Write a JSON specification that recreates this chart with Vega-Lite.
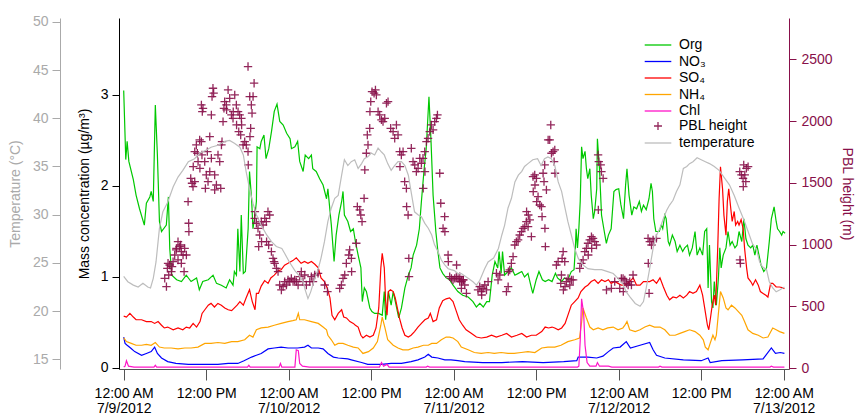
{
  "$schema": "https://vega.github.io/schema/vega-lite/v6.json",
  "width": 670,
  "height": 351,
  "autosize": {"type": "none"},
  "padding": {"left": 119, "top": 18, "right": 67, "bottom": 46},
  "config": {
    "font": "Liberation Sans",
    "view": {"stroke": null},
    "axis": {"grid": false, "labelFont": "Liberation Sans", "titleFont": "Liberation Sans", "labelFontSize": 14, "titleFontSize": 14, "titleFontWeight": "normal", "domainWidth": 1, "tickWidth": 1},
    "legend": {"labelFont": "Liberation Sans", "labelFontSize": 14, "labelColor": "black", "padding": 0, "rowPadding": 1.5, "labelOffset": 13, "symbolStrokeWidth": 1.3, "title": null}
  },
  "datasets": {
    "mass": [
      {"t":"2012-07-09T00:00","s":"Org","v":3.05},{"t":"2012-07-09T00:18","s":"Org","v":2.29},{"t":"2012-07-09T00:30","s":"Org","v":2.49},{"t":"2012-07-09T00:45","s":"Org","v":2.27},{"t":"2012-07-09T01:24","s":"Org","v":2.07},{"t":"2012-07-09T01:48","s":"Org","v":1.90},{"t":"2012-07-09T02:18","s":"Org","v":1.75},{"t":"2012-07-09T03:00","s":"Org","v":1.57},{"t":"2012-07-09T03:18","s":"Org","v":1.81},{"t":"2012-07-09T03:48","s":"Org","v":1.88},{"t":"2012-07-09T04:00","s":"Org","v":1.94},{"t":"2012-07-09T04:18","s":"Org","v":1.83},{"t":"2012-07-09T04:36","s":"Org","v":2.89},{"t":"2012-07-09T04:54","s":"Org","v":2.34},{"t":"2012-07-09T05:12","s":"Org","v":1.61},{"t":"2012-07-09T05:30","s":"Org","v":1.50},{"t":"2012-07-09T06:12","s":"Org","v":1.57},{"t":"2012-07-09T06:30","s":"Org","v":1.88},{"t":"2012-07-09T06:42","s":"Org","v":1.31},{"t":"2012-07-09T07:00","s":"Org","v":1.02},{"t":"2012-07-09T07:42","s":"Org","v":0.97},{"t":"2012-07-09T08:24","s":"Org","v":0.95},{"t":"2012-07-09T09:06","s":"Org","v":1.02},{"t":"2012-07-09T09:48","s":"Org","v":0.95},{"t":"2012-07-09T10:36","s":"Org","v":0.99},{"t":"2012-07-09T11:00","s":"Org","v":0.86},{"t":"2012-07-09T11:30","s":"Org","v":0.95},{"t":"2012-07-09T12:18","s":"Org","v":0.97},{"t":"2012-07-09T13:00","s":"Org","v":1.02},{"t":"2012-07-09T13:30","s":"Org","v":0.93},{"t":"2012-07-09T14:12","s":"Org","v":0.91},{"t":"2012-07-09T14:54","s":"Org","v":0.88},{"t":"2012-07-09T15:24","s":"Org","v":0.97},{"t":"2012-07-09T15:54","s":"Org","v":0.91},{"t":"2012-07-09T16:06","s":"Org","v":1.06},{"t":"2012-07-09T16:24","s":"Org","v":1.02},{"t":"2012-07-09T16:36","s":"Org","v":1.53},{"t":"2012-07-09T16:54","s":"Org","v":1.06},{"t":"2012-07-09T17:06","s":"Org","v":1.68},{"t":"2012-07-09T17:24","s":"Org","v":1.04},{"t":"2012-07-09T17:42","s":"Org","v":1.06},{"t":"2012-07-09T18:06","s":"Org","v":1.53},{"t":"2012-07-09T18:18","s":"Org","v":2.16},{"t":"2012-07-09T18:36","s":"Org","v":1.86},{"t":"2012-07-09T18:48","s":"Org","v":1.53},{"t":"2012-07-09T19:06","s":"Org","v":1.68},{"t":"2012-07-09T19:18","s":"Org","v":1.83},{"t":"2012-07-09T19:24","s":"Org","v":2.43},{"t":"2012-07-09T19:48","s":"Org","v":2.41},{"t":"2012-07-09T20:00","s":"Org","v":2.49},{"t":"2012-07-09T20:24","s":"Org","v":2.56},{"t":"2012-07-09T20:42","s":"Org","v":2.30},{"t":"2012-07-09T21:06","s":"Org","v":2.41},{"t":"2012-07-09T21:30","s":"Org","v":2.60},{"t":"2012-07-09T21:54","s":"Org","v":2.82},{"t":"2012-07-09T22:18","s":"Org","v":2.90},{"t":"2012-07-09T22:42","s":"Org","v":2.71},{"t":"2012-07-09T23:12","s":"Org","v":2.67},{"t":"2012-07-09T23:42","s":"Org","v":2.58},{"t":"2012-07-10T00:12","s":"Org","v":2.52},{"t":"2012-07-10T00:24","s":"Org","v":2.41},{"t":"2012-07-10T00:54","s":"Org","v":2.43},{"t":"2012-07-10T01:18","s":"Org","v":2.49},{"t":"2012-07-10T01:36","s":"Org","v":2.27},{"t":"2012-07-10T02:06","s":"Org","v":2.16},{"t":"2012-07-10T02:24","s":"Org","v":2.34},{"t":"2012-07-10T02:54","s":"Org","v":2.30},{"t":"2012-07-10T03:18","s":"Org","v":2.34},{"t":"2012-07-10T03:30","s":"Org","v":2.19},{"t":"2012-07-10T04:00","s":"Org","v":2.16},{"t":"2012-07-10T04:30","s":"Org","v":2.08},{"t":"2012-07-10T05:00","s":"Org","v":2.01},{"t":"2012-07-10T05:30","s":"Org","v":1.86},{"t":"2012-07-10T05:42","s":"Org","v":1.97},{"t":"2012-07-10T06:12","s":"Org","v":1.57},{"t":"2012-07-10T06:36","s":"Org","v":1.17},{"t":"2012-07-10T06:54","s":"Org","v":1.46},{"t":"2012-07-10T07:18","s":"Org","v":1.68},{"t":"2012-07-10T07:42","s":"Org","v":1.83},{"t":"2012-07-10T07:54","s":"Org","v":1.94},{"t":"2012-07-10T08:06","s":"Org","v":1.68},{"t":"2012-07-10T08:36","s":"Org","v":1.61},{"t":"2012-07-10T09:00","s":"Org","v":1.50},{"t":"2012-07-10T09:24","s":"Org","v":1.53},{"t":"2012-07-10T09:42","s":"Org","v":1.39},{"t":"2012-07-10T10:06","s":"Org","v":1.24},{"t":"2012-07-10T10:30","s":"Org","v":1.10},{"t":"2012-07-10T10:42","s":"Org","v":0.73},{"t":"2012-07-10T11:00","s":"Org","v":0.88},{"t":"2012-07-10T11:18","s":"Org","v":0.84},{"t":"2012-07-10T11:48","s":"Org","v":0.66},{"t":"2012-07-10T12:06","s":"Org","v":0.62},{"t":"2012-07-10T12:30","s":"Org","v":0.60},{"t":"2012-07-10T13:06","s":"Org","v":0.60},{"t":"2012-07-10T13:36","s":"Org","v":0.58},{"t":"2012-07-10T13:54","s":"Org","v":0.84},{"t":"2012-07-10T14:06","s":"Org","v":0.53},{"t":"2012-07-10T14:30","s":"Org","v":0.84},{"t":"2012-07-10T14:54","s":"Org","v":0.69},{"t":"2012-07-10T15:12","s":"Org","v":0.84},{"t":"2012-07-10T15:42","s":"Org","v":0.66},{"t":"2012-07-10T16:00","s":"Org","v":0.55},{"t":"2012-07-10T16:24","s":"Org","v":0.66},{"t":"2012-07-10T16:54","s":"Org","v":0.88},{"t":"2012-07-10T17:24","s":"Org","v":1.02},{"t":"2012-07-10T17:48","s":"Org","v":1.10},{"t":"2012-07-10T18:06","s":"Org","v":1.24},{"t":"2012-07-10T18:36","s":"Org","v":1.35},{"t":"2012-07-10T19:00","s":"Org","v":1.53},{"t":"2012-07-10T19:18","s":"Org","v":1.83},{"t":"2012-07-10T19:42","s":"Org","v":2.19},{"t":"2012-07-10T20:00","s":"Org","v":2.41},{"t":"2012-07-10T20:24","s":"Org","v":2.98},{"t":"2012-07-10T20:42","s":"Org","v":2.49},{"t":"2012-07-10T21:00","s":"Org","v":1.90},{"t":"2012-07-10T21:24","s":"Org","v":1.50},{"t":"2012-07-10T21:42","s":"Org","v":1.28},{"t":"2012-07-10T22:00","s":"Org","v":1.10},{"t":"2012-07-10T22:24","s":"Org","v":1.04},{"t":"2012-07-10T22:54","s":"Org","v":0.99},{"t":"2012-07-10T23:24","s":"Org","v":0.97},{"t":"2012-07-10T23:54","s":"Org","v":0.91},{"t":"2012-07-11T00:12","s":"Org","v":0.88},{"t":"2012-07-11T00:36","s":"Org","v":0.84},{"t":"2012-07-11T01:18","s":"Org","v":0.80},{"t":"2012-07-11T02:06","s":"Org","v":0.78},{"t":"2012-07-11T02:48","s":"Org","v":0.73},{"t":"2012-07-11T03:18","s":"Org","v":0.67},{"t":"2012-07-11T03:48","s":"Org","v":0.71},{"t":"2012-07-11T04:18","s":"Org","v":0.67},{"t":"2012-07-11T04:48","s":"Org","v":0.73},{"t":"2012-07-11T05:12","s":"Org","v":0.73},{"t":"2012-07-11T05:36","s":"Org","v":1.02},{"t":"2012-07-11T06:00","s":"Org","v":1.17},{"t":"2012-07-11T06:24","s":"Org","v":1.10},{"t":"2012-07-11T06:36","s":"Org","v":1.28},{"t":"2012-07-11T06:54","s":"Org","v":1.04},{"t":"2012-07-11T07:06","s":"Org","v":1.28},{"t":"2012-07-11T07:24","s":"Org","v":1.02},{"t":"2012-07-11T07:54","s":"Org","v":1.06},{"t":"2012-07-11T08:24","s":"Org","v":1.10},{"t":"2012-07-11T08:54","s":"Org","v":1.02},{"t":"2012-07-11T09:24","s":"Org","v":1.04},{"t":"2012-07-11T09:54","s":"Org","v":1.06},{"t":"2012-07-11T10:18","s":"Org","v":1.00},{"t":"2012-07-11T10:48","s":"Org","v":1.04},{"t":"2012-07-11T11:12","s":"Org","v":0.91},{"t":"2012-07-11T11:30","s":"Org","v":0.82},{"t":"2012-07-11T12:00","s":"Org","v":0.97},{"t":"2012-07-11T12:24","s":"Org","v":1.06},{"t":"2012-07-11T12:54","s":"Org","v":0.97},{"t":"2012-07-11T13:18","s":"Org","v":0.95},{"t":"2012-07-11T13:48","s":"Org","v":0.97},{"t":"2012-07-11T14:18","s":"Org","v":0.95},{"t":"2012-07-11T14:48","s":"Org","v":1.04},{"t":"2012-07-11T15:06","s":"Org","v":0.99},{"t":"2012-07-11T15:42","s":"Org","v":0.95},{"t":"2012-07-11T16:06","s":"Org","v":0.99},{"t":"2012-07-11T16:36","s":"Org","v":0.97},{"t":"2012-07-11T17:06","s":"Org","v":1.06},{"t":"2012-07-11T17:30","s":"Org","v":1.08},{"t":"2012-07-11T17:42","s":"Org","v":1.32},{"t":"2012-07-11T17:48","s":"Org","v":1.53},{"t":"2012-07-11T18:00","s":"Org","v":1.32},{"t":"2012-07-11T18:12","s":"Org","v":1.53},{"t":"2012-07-11T18:24","s":"Org","v":1.83},{"t":"2012-07-11T18:36","s":"Org","v":2.43},{"t":"2012-07-11T18:48","s":"Org","v":2.30},{"t":"2012-07-11T19:06","s":"Org","v":2.38},{"t":"2012-07-11T19:18","s":"Org","v":2.19},{"t":"2012-07-11T19:30","s":"Org","v":2.08},{"t":"2012-07-11T19:48","s":"Org","v":2.19},{"t":"2012-07-11T20:00","s":"Org","v":1.90},{"t":"2012-07-11T20:18","s":"Org","v":1.64},{"t":"2012-07-11T20:30","s":"Org","v":1.72},{"t":"2012-07-11T20:48","s":"Org","v":1.97},{"t":"2012-07-11T20:54","s":"Org","v":2.52},{"t":"2012-07-11T21:12","s":"Org","v":2.19},{"t":"2012-07-11T21:30","s":"Org","v":1.68},{"t":"2012-07-11T21:54","s":"Org","v":1.50},{"t":"2012-07-11T22:12","s":"Org","v":1.37},{"t":"2012-07-11T22:30","s":"Org","v":1.46},{"t":"2012-07-11T22:54","s":"Org","v":1.53},{"t":"2012-07-11T23:18","s":"Org","v":1.94},{"t":"2012-07-11T23:36","s":"Org","v":1.96},{"t":"2012-07-12T00:00","s":"Org","v":1.97},{"t":"2012-07-12T00:18","s":"Org","v":1.80},{"t":"2012-07-12T00:42","s":"Org","v":1.64},{"t":"2012-07-12T01:00","s":"Org","v":2.01},{"t":"2012-07-12T01:12","s":"Org","v":2.19},{"t":"2012-07-12T01:30","s":"Org","v":1.90},{"t":"2012-07-12T01:54","s":"Org","v":1.68},{"t":"2012-07-12T02:12","s":"Org","v":1.77},{"t":"2012-07-12T02:36","s":"Org","v":1.75},{"t":"2012-07-12T03:00","s":"Org","v":1.83},{"t":"2012-07-12T03:18","s":"Org","v":1.72},{"t":"2012-07-12T03:36","s":"Org","v":1.79},{"t":"2012-07-12T04:00","s":"Org","v":1.74},{"t":"2012-07-12T04:24","s":"Org","v":1.86},{"t":"2012-07-12T04:42","s":"Org","v":2.03},{"t":"2012-07-12T04:54","s":"Org","v":1.94},{"t":"2012-07-12T05:06","s":"Org","v":1.64},{"t":"2012-07-12T05:24","s":"Org","v":1.50},{"t":"2012-07-12T05:54","s":"Org","v":1.50},{"t":"2012-07-12T06:12","s":"Org","v":1.57},{"t":"2012-07-12T06:24","s":"Org","v":1.53},{"t":"2012-07-12T06:42","s":"Org","v":1.68},{"t":"2012-07-12T06:54","s":"Org","v":1.64},{"t":"2012-07-12T07:12","s":"Org","v":1.39},{"t":"2012-07-12T07:24","s":"Org","v":1.35},{"t":"2012-07-12T07:48","s":"Org","v":1.46},{"t":"2012-07-12T08:12","s":"Org","v":1.39},{"t":"2012-07-12T08:30","s":"Org","v":1.28},{"t":"2012-07-12T08:54","s":"Org","v":1.35},{"t":"2012-07-12T09:18","s":"Org","v":1.28},{"t":"2012-07-12T09:36","s":"Org","v":1.32},{"t":"2012-07-12T10:00","s":"Org","v":1.35},{"t":"2012-07-12T10:18","s":"Org","v":1.24},{"t":"2012-07-12T10:42","s":"Org","v":1.32},{"t":"2012-07-12T11:06","s":"Org","v":1.50},{"t":"2012-07-12T11:24","s":"Org","v":1.24},{"t":"2012-07-12T11:48","s":"Org","v":1.32},{"t":"2012-07-12T12:12","s":"Org","v":1.24},{"t":"2012-07-12T12:30","s":"Org","v":1.50},{"t":"2012-07-12T12:48","s":"Org","v":1.53},{"t":"2012-07-12T13:00","s":"Org","v":0.88},{"t":"2012-07-12T13:12","s":"Org","v":1.35},{"t":"2012-07-12T13:30","s":"Org","v":0.73},{"t":"2012-07-12T13:42","s":"Org","v":0.66},{"t":"2012-07-12T13:54","s":"Org","v":0.95},{"t":"2012-07-12T14:12","s":"Org","v":0.69},{"t":"2012-07-12T14:30","s":"Org","v":0.99},{"t":"2012-07-12T14:42","s":"Org","v":1.32},{"t":"2012-07-12T14:54","s":"Org","v":1.10},{"t":"2012-07-12T15:12","s":"Org","v":1.24},{"t":"2012-07-12T15:36","s":"Org","v":1.32},{"t":"2012-07-12T15:54","s":"Org","v":1.50},{"t":"2012-07-12T16:12","s":"Org","v":1.35},{"t":"2012-07-12T16:30","s":"Org","v":1.39},{"t":"2012-07-12T16:54","s":"Org","v":1.32},{"t":"2012-07-12T17:12","s":"Org","v":1.35},{"t":"2012-07-12T17:30","s":"Org","v":1.50},{"t":"2012-07-12T17:54","s":"Org","v":1.39},{"t":"2012-07-12T18:12","s":"Org","v":1.64},{"t":"2012-07-12T18:30","s":"Org","v":1.42},{"t":"2012-07-12T18:48","s":"Org","v":1.35},{"t":"2012-07-12T19:12","s":"Org","v":1.32},{"t":"2012-07-12T19:30","s":"Org","v":1.35},{"t":"2012-07-12T19:48","s":"Org","v":1.24},{"t":"2012-07-12T20:06","s":"Org","v":1.35},{"t":"2012-07-12T20:24","s":"Org","v":1.24},{"t":"2012-07-12T20:42","s":"Org","v":1.13},{"t":"2012-07-12T21:06","s":"Org","v":1.06},{"t":"2012-07-12T21:30","s":"Org","v":1.10},{"t":"2012-07-12T21:54","s":"Org","v":1.39},{"t":"2012-07-12T22:12","s":"Org","v":1.64},{"t":"2012-07-12T22:36","s":"Org","v":1.77},{"t":"2012-07-12T22:54","s":"Org","v":1.61},{"t":"2012-07-12T23:06","s":"Org","v":1.53},{"t":"2012-07-12T23:24","s":"Org","v":1.50},{"t":"2012-07-12T23:42","s":"Org","v":1.46},{"t":"2012-07-12T23:54","s":"Org","v":1.50},{"t":"2012-07-13T00:12","s":"Org","v":1.48},

      {"t":"2012-07-09T00:00","s":"NO3","v":0.34},{"t":"2012-07-09T00:12","s":"NO3","v":0.27},{"t":"2012-07-09T00:30","s":"NO3","v":0.25},{"t":"2012-07-09T01:00","s":"NO3","v":0.22},{"t":"2012-07-09T01:36","s":"NO3","v":0.18},{"t":"2012-07-09T02:36","s":"NO3","v":0.14},{"t":"2012-07-09T03:18","s":"NO3","v":0.16},{"t":"2012-07-09T04:00","s":"NO3","v":0.18},{"t":"2012-07-09T04:30","s":"NO3","v":0.23},{"t":"2012-07-09T04:54","s":"NO3","v":0.16},{"t":"2012-07-09T05:30","s":"NO3","v":0.11},{"t":"2012-07-09T06:24","s":"NO3","v":0.07},{"t":"2012-07-09T07:36","s":"NO3","v":0.05},{"t":"2012-07-09T09:24","s":"NO3","v":0.04},{"t":"2012-07-09T10:48","s":"NO3","v":0.04},{"t":"2012-07-09T12:18","s":"NO3","v":0.04},{"t":"2012-07-09T13:42","s":"NO3","v":0.04},{"t":"2012-07-09T15:12","s":"NO3","v":0.05},{"t":"2012-07-09T16:36","s":"NO3","v":0.05},{"t":"2012-07-09T17:30","s":"NO3","v":0.08},{"t":"2012-07-09T18:36","s":"NO3","v":0.12},{"t":"2012-07-09T19:18","s":"NO3","v":0.14},{"t":"2012-07-09T20:00","s":"NO3","v":0.16},{"t":"2012-07-09T21:00","s":"NO3","v":0.21},{"t":"2012-07-09T21:54","s":"NO3","v":0.22},{"t":"2012-07-09T22:54","s":"NO3","v":0.23},{"t":"2012-07-09T23:54","s":"NO3","v":0.22},{"t":"2012-07-10T01:18","s":"NO3","v":0.22},{"t":"2012-07-10T02:18","s":"NO3","v":0.23},{"t":"2012-07-10T02:48","s":"NO3","v":0.25},{"t":"2012-07-10T03:18","s":"NO3","v":0.22},{"t":"2012-07-10T04:18","s":"NO3","v":0.22},{"t":"2012-07-10T05:00","s":"NO3","v":0.21},{"t":"2012-07-10T05:42","s":"NO3","v":0.16},{"t":"2012-07-10T06:30","s":"NO3","v":0.12},{"t":"2012-07-10T07:12","s":"NO3","v":0.11},{"t":"2012-07-10T08:36","s":"NO3","v":0.10},{"t":"2012-07-10T09:06","s":"NO3","v":0.09},{"t":"2012-07-10T10:36","s":"NO3","v":0.06},{"t":"2012-07-10T11:30","s":"NO3","v":0.04},{"t":"2012-07-10T13:30","s":"NO3","v":0.04},{"t":"2012-07-10T14:54","s":"NO3","v":0.05},{"t":"2012-07-10T16:24","s":"NO3","v":0.05},{"t":"2012-07-10T17:48","s":"NO3","v":0.07},{"t":"2012-07-10T18:48","s":"NO3","v":0.09},{"t":"2012-07-10T19:48","s":"NO3","v":0.12},{"t":"2012-07-10T20:18","s":"NO3","v":0.15},{"t":"2012-07-10T20:48","s":"NO3","v":0.12},{"t":"2012-07-10T21:42","s":"NO3","v":0.11},{"t":"2012-07-10T22:42","s":"NO3","v":0.09},{"t":"2012-07-10T23:36","s":"NO3","v":0.09},{"t":"2012-07-11T00:36","s":"NO3","v":0.08},{"t":"2012-07-11T01:36","s":"NO3","v":0.07},{"t":"2012-07-11T04:12","s":"NO3","v":0.06},{"t":"2012-07-11T07:00","s":"NO3","v":0.06},{"t":"2012-07-11T10:00","s":"NO3","v":0.07},{"t":"2012-07-11T13:00","s":"NO3","v":0.06},{"t":"2012-07-11T16:00","s":"NO3","v":0.07},{"t":"2012-07-11T17:54","s":"NO3","v":0.08},{"t":"2012-07-11T18:06","s":"NO3","v":0.12},{"t":"2012-07-11T19:30","s":"NO3","v":0.12},{"t":"2012-07-11T20:48","s":"NO3","v":0.11},{"t":"2012-07-11T21:42","s":"NO3","v":0.13},{"t":"2012-07-11T22:30","s":"NO3","v":0.18},{"t":"2012-07-11T23:12","s":"NO3","v":0.22},{"t":"2012-07-12T00:12","s":"NO3","v":0.23},{"t":"2012-07-12T01:06","s":"NO3","v":0.29},{"t":"2012-07-12T01:42","s":"NO3","v":0.22},{"t":"2012-07-12T03:06","s":"NO3","v":0.25},{"t":"2012-07-12T04:30","s":"NO3","v":0.28},{"t":"2012-07-12T05:00","s":"NO3","v":0.20},{"t":"2012-07-12T05:30","s":"NO3","v":0.14},{"t":"2012-07-12T06:42","s":"NO3","v":0.11},{"t":"2012-07-12T09:24","s":"NO3","v":0.09},{"t":"2012-07-12T12:00","s":"NO3","v":0.08},{"t":"2012-07-12T13:00","s":"NO3","v":0.11},{"t":"2012-07-12T13:18","s":"NO3","v":0.06},{"t":"2012-07-12T15:00","s":"NO3","v":0.08},{"t":"2012-07-12T18:00","s":"NO3","v":0.09},{"t":"2012-07-12T21:00","s":"NO3","v":0.10},{"t":"2012-07-12T22:12","s":"NO3","v":0.22},{"t":"2012-07-12T22:48","s":"NO3","v":0.16},{"t":"2012-07-12T23:30","s":"NO3","v":0.17},{"t":"2012-07-13T00:06","s":"NO3","v":0.16},

      {"t":"2012-07-09T00:00","s":"SO4","v":0.57},{"t":"2012-07-09T00:24","s":"SO4","v":0.56},{"t":"2012-07-09T00:54","s":"SO4","v":0.60},{"t":"2012-07-09T01:24","s":"SO4","v":0.56},{"t":"2012-07-09T01:48","s":"SO4","v":0.53},{"t":"2012-07-09T02:36","s":"SO4","v":0.53},{"t":"2012-07-09T03:18","s":"SO4","v":0.51},{"t":"2012-07-09T04:00","s":"SO4","v":0.51},{"t":"2012-07-09T04:30","s":"SO4","v":0.49},{"t":"2012-07-09T05:00","s":"SO4","v":0.51},{"t":"2012-07-09T05:30","s":"SO4","v":0.47},{"t":"2012-07-09T05:54","s":"SO4","v":0.44},{"t":"2012-07-09T06:24","s":"SO4","v":0.45},{"t":"2012-07-09T07:12","s":"SO4","v":0.42},{"t":"2012-07-09T07:54","s":"SO4","v":0.44},{"t":"2012-07-09T08:36","s":"SO4","v":0.42},{"t":"2012-07-09T09:06","s":"SO4","v":0.45},{"t":"2012-07-09T09:36","s":"SO4","v":0.44},{"t":"2012-07-09T10:06","s":"SO4","v":0.49},{"t":"2012-07-09T10:36","s":"SO4","v":0.45},{"t":"2012-07-09T11:06","s":"SO4","v":0.51},{"t":"2012-07-09T11:24","s":"SO4","v":0.60},{"t":"2012-07-09T11:48","s":"SO4","v":0.64},{"t":"2012-07-09T12:18","s":"SO4","v":0.69},{"t":"2012-07-09T12:42","s":"SO4","v":0.71},{"t":"2012-07-09T13:12","s":"SO4","v":0.67},{"t":"2012-07-09T13:42","s":"SO4","v":0.71},{"t":"2012-07-09T14:12","s":"SO4","v":0.69},{"t":"2012-07-09T14:42","s":"SO4","v":0.66},{"t":"2012-07-09T15:12","s":"SO4","v":0.64},{"t":"2012-07-09T15:42","s":"SO4","v":0.63},{"t":"2012-07-09T16:06","s":"SO4","v":0.66},{"t":"2012-07-09T16:30","s":"SO4","v":0.69},{"t":"2012-07-09T16:54","s":"SO4","v":0.73},{"t":"2012-07-09T17:24","s":"SO4","v":0.69},{"t":"2012-07-09T17:48","s":"SO4","v":0.77},{"t":"2012-07-09T18:18","s":"SO4","v":0.86},{"t":"2012-07-09T18:42","s":"SO4","v":0.73},{"t":"2012-07-09T19:06","s":"SO4","v":0.64},{"t":"2012-07-09T19:18","s":"SO4","v":0.82},{"t":"2012-07-09T19:36","s":"SO4","v":0.82},{"t":"2012-07-09T20:00","s":"SO4","v":0.90},{"t":"2012-07-09T20:30","s":"SO4","v":0.96},{"t":"2012-07-09T21:00","s":"SO4","v":0.93},{"t":"2012-07-09T21:24","s":"SO4","v":0.99},{"t":"2012-07-09T21:54","s":"SO4","v":1.02},{"t":"2012-07-09T22:30","s":"SO4","v":1.07},{"t":"2012-07-09T22:54","s":"SO4","v":1.08},{"t":"2012-07-09T23:24","s":"SO4","v":1.13},{"t":"2012-07-09T23:54","s":"SO4","v":1.15},{"t":"2012-07-10T00:36","s":"SO4","v":1.18},{"t":"2012-07-10T01:06","s":"SO4","v":1.21},{"t":"2012-07-10T01:48","s":"SO4","v":1.15},{"t":"2012-07-10T02:18","s":"SO4","v":1.17},{"t":"2012-07-10T02:48","s":"SO4","v":1.15},{"t":"2012-07-10T03:18","s":"SO4","v":1.17},{"t":"2012-07-10T03:48","s":"SO4","v":1.14},{"t":"2012-07-10T04:18","s":"SO4","v":1.10},{"t":"2012-07-10T04:42","s":"SO4","v":0.99},{"t":"2012-07-10T05:12","s":"SO4","v":0.95},{"t":"2012-07-10T05:36","s":"SO4","v":0.88},{"t":"2012-07-10T06:00","s":"SO4","v":0.77},{"t":"2012-07-10T06:18","s":"SO4","v":0.58},{"t":"2012-07-10T06:42","s":"SO4","v":0.53},{"t":"2012-07-10T07:12","s":"SO4","v":0.60},{"t":"2012-07-10T07:42","s":"SO4","v":0.64},{"t":"2012-07-10T08:00","s":"SO4","v":0.56},{"t":"2012-07-10T08:24","s":"SO4","v":0.55},{"t":"2012-07-10T08:54","s":"SO4","v":0.51},{"t":"2012-07-10T09:24","s":"SO4","v":0.49},{"t":"2012-07-10T09:42","s":"SO4","v":0.47},{"t":"2012-07-10T10:06","s":"SO4","v":0.45},{"t":"2012-07-10T10:30","s":"SO4","v":0.36},{"t":"2012-07-10T10:48","s":"SO4","v":0.33},{"t":"2012-07-10T11:18","s":"SO4","v":0.36},{"t":"2012-07-10T11:48","s":"SO4","v":0.34},{"t":"2012-07-10T12:18","s":"SO4","v":0.36},{"t":"2012-07-10T12:42","s":"SO4","v":0.44},{"t":"2012-07-10T13:06","s":"SO4","v":0.66},{"t":"2012-07-10T13:24","s":"SO4","v":1.10},{"t":"2012-07-10T13:36","s":"SO4","v":1.26},{"t":"2012-07-10T13:54","s":"SO4","v":1.10},{"t":"2012-07-10T14:06","s":"SO4","v":0.73},{"t":"2012-07-10T14:18","s":"SO4","v":0.58},{"t":"2012-07-10T14:30","s":"SO4","v":0.84},{"t":"2012-07-10T14:48","s":"SO4","v":0.86},{"t":"2012-07-10T15:12","s":"SO4","v":0.84},{"t":"2012-07-10T15:30","s":"SO4","v":0.77},{"t":"2012-07-10T15:48","s":"SO4","v":0.66},{"t":"2012-07-10T16:06","s":"SO4","v":0.55},{"t":"2012-07-10T16:30","s":"SO4","v":0.44},{"t":"2012-07-10T16:54","s":"SO4","v":0.36},{"t":"2012-07-10T17:24","s":"SO4","v":0.34},{"t":"2012-07-10T17:48","s":"SO4","v":0.36},{"t":"2012-07-10T18:18","s":"SO4","v":0.40},{"t":"2012-07-10T18:48","s":"SO4","v":0.45},{"t":"2012-07-10T19:18","s":"SO4","v":0.49},{"t":"2012-07-10T19:48","s":"SO4","v":0.53},{"t":"2012-07-10T20:18","s":"SO4","v":0.55},{"t":"2012-07-10T20:36","s":"SO4","v":0.60},{"t":"2012-07-10T21:00","s":"SO4","v":0.51},{"t":"2012-07-10T21:30","s":"SO4","v":0.53},{"t":"2012-07-10T21:54","s":"SO4","v":0.66},{"t":"2012-07-10T22:24","s":"SO4","v":0.74},{"t":"2012-07-10T22:54","s":"SO4","v":0.76},{"t":"2012-07-10T23:24","s":"SO4","v":0.77},{"t":"2012-07-10T23:54","s":"SO4","v":0.73},{"t":"2012-07-11T00:24","s":"SO4","v":0.62},{"t":"2012-07-11T00:48","s":"SO4","v":0.53},{"t":"2012-07-11T01:18","s":"SO4","v":0.47},{"t":"2012-07-11T01:48","s":"SO4","v":0.42},{"t":"2012-07-11T02:36","s":"SO4","v":0.38},{"t":"2012-07-11T03:18","s":"SO4","v":0.34},{"t":"2012-07-11T04:00","s":"SO4","v":0.33},{"t":"2012-07-11T04:48","s":"SO4","v":0.34},{"t":"2012-07-11T05:30","s":"SO4","v":0.36},{"t":"2012-07-11T06:12","s":"SO4","v":0.34},{"t":"2012-07-11T07:00","s":"SO4","v":0.36},{"t":"2012-07-11T07:42","s":"SO4","v":0.38},{"t":"2012-07-11T08:24","s":"SO4","v":0.34},{"t":"2012-07-11T09:12","s":"SO4","v":0.36},{"t":"2012-07-11T09:54","s":"SO4","v":0.38},{"t":"2012-07-11T10:36","s":"SO4","v":0.34},{"t":"2012-07-11T11:18","s":"SO4","v":0.36},{"t":"2012-07-11T12:00","s":"SO4","v":0.36},{"t":"2012-07-11T12:48","s":"SO4","v":0.40},{"t":"2012-07-11T13:18","s":"SO4","v":0.45},{"t":"2012-07-11T13:48","s":"SO4","v":0.44},{"t":"2012-07-11T14:18","s":"SO4","v":0.45},{"t":"2012-07-11T14:42","s":"SO4","v":0.44},{"t":"2012-07-11T15:12","s":"SO4","v":0.42},{"t":"2012-07-11T15:42","s":"SO4","v":0.44},{"t":"2012-07-11T16:12","s":"SO4","v":0.49},{"t":"2012-07-11T16:42","s":"SO4","v":0.60},{"t":"2012-07-11T17:06","s":"SO4","v":0.69},{"t":"2012-07-11T17:36","s":"SO4","v":0.73},{"t":"2012-07-11T18:06","s":"SO4","v":0.77},{"t":"2012-07-11T18:30","s":"SO4","v":0.84},{"t":"2012-07-11T19:06","s":"SO4","v":0.89},{"t":"2012-07-11T19:30","s":"SO4","v":0.91},{"t":"2012-07-11T20:00","s":"SO4","v":0.95},{"t":"2012-07-11T20:30","s":"SO4","v":0.97},{"t":"2012-07-11T21:00","s":"SO4","v":0.93},{"t":"2012-07-11T21:30","s":"SO4","v":0.97},{"t":"2012-07-11T22:00","s":"SO4","v":0.95},{"t":"2012-07-11T22:30","s":"SO4","v":0.97},{"t":"2012-07-11T22:54","s":"SO4","v":0.93},{"t":"2012-07-11T23:24","s":"SO4","v":0.95},{"t":"2012-07-11T23:54","s":"SO4","v":0.93},{"t":"2012-07-12T00:24","s":"SO4","v":0.91},{"t":"2012-07-12T00:54","s":"SO4","v":0.91},{"t":"2012-07-12T01:36","s":"SO4","v":0.95},{"t":"2012-07-12T02:06","s":"SO4","v":0.99},{"t":"2012-07-12T02:36","s":"SO4","v":0.91},{"t":"2012-07-12T03:06","s":"SO4","v":0.91},{"t":"2012-07-12T03:36","s":"SO4","v":0.95},{"t":"2012-07-12T04:00","s":"SO4","v":0.95},{"t":"2012-07-12T04:30","s":"SO4","v":0.95},{"t":"2012-07-12T05:00","s":"SO4","v":0.97},{"t":"2012-07-12T05:30","s":"SO4","v":0.93},{"t":"2012-07-12T06:00","s":"SO4","v":0.99},{"t":"2012-07-12T06:30","s":"SO4","v":0.89},{"t":"2012-07-12T07:00","s":"SO4","v":0.80},{"t":"2012-07-12T07:24","s":"SO4","v":0.75},{"t":"2012-07-12T07:54","s":"SO4","v":0.78},{"t":"2012-07-12T08:24","s":"SO4","v":0.77},{"t":"2012-07-12T08:54","s":"SO4","v":0.80},{"t":"2012-07-12T09:24","s":"SO4","v":0.77},{"t":"2012-07-12T09:54","s":"SO4","v":0.80},{"t":"2012-07-12T10:18","s":"SO4","v":0.84},{"t":"2012-07-12T10:48","s":"SO4","v":0.82},{"t":"2012-07-12T11:18","s":"SO4","v":0.84},{"t":"2012-07-12T11:48","s":"SO4","v":0.91},{"t":"2012-07-12T12:12","s":"SO4","v":0.80},{"t":"2012-07-12T12:30","s":"SO4","v":0.66},{"t":"2012-07-12T12:54","s":"SO4","v":0.47},{"t":"2012-07-12T13:06","s":"SO4","v":0.42},{"t":"2012-07-12T13:24","s":"SO4","v":0.58},{"t":"2012-07-12T13:36","s":"SO4","v":0.69},{"t":"2012-07-12T13:54","s":"SO4","v":0.80},{"t":"2012-07-12T14:06","s":"SO4","v":0.69},{"t":"2012-07-12T14:24","s":"SO4","v":1.32},{"t":"2012-07-12T14:36","s":"SO4","v":1.86},{"t":"2012-07-12T14:48","s":"SO4","v":2.21},{"t":"2012-07-12T15:06","s":"SO4","v":1.97},{"t":"2012-07-12T15:18","s":"SO4","v":1.68},{"t":"2012-07-12T15:36","s":"SO4","v":1.46},{"t":"2012-07-12T15:48","s":"SO4","v":1.83},{"t":"2012-07-12T16:00","s":"SO4","v":1.97},{"t":"2012-07-12T16:18","s":"SO4","v":1.75},{"t":"2012-07-12T16:30","s":"SO4","v":1.61},{"t":"2012-07-12T16:48","s":"SO4","v":1.72},{"t":"2012-07-12T17:00","s":"SO4","v":1.57},{"t":"2012-07-12T17:18","s":"SO4","v":1.61},{"t":"2012-07-12T17:30","s":"SO4","v":1.57},{"t":"2012-07-12T17:48","s":"SO4","v":1.63},{"t":"2012-07-12T18:06","s":"SO4","v":1.53},{"t":"2012-07-12T18:18","s":"SO4","v":1.32},{"t":"2012-07-12T18:36","s":"SO4","v":1.10},{"t":"2012-07-12T18:48","s":"SO4","v":0.99},{"t":"2012-07-12T19:12","s":"SO4","v":0.95},{"t":"2012-07-12T19:30","s":"SO4","v":0.91},{"t":"2012-07-12T19:54","s":"SO4","v":0.97},{"t":"2012-07-12T20:18","s":"SO4","v":0.91},{"t":"2012-07-12T20:36","s":"SO4","v":0.84},{"t":"2012-07-12T21:00","s":"SO4","v":0.82},{"t":"2012-07-12T21:24","s":"SO4","v":0.80},{"t":"2012-07-12T21:42","s":"SO4","v":0.78},{"t":"2012-07-12T22:06","s":"SO4","v":0.93},{"t":"2012-07-12T22:24","s":"SO4","v":0.93},{"t":"2012-07-12T22:54","s":"SO4","v":0.89},{"t":"2012-07-12T23:24","s":"SO4","v":0.89},{"t":"2012-07-12T23:54","s":"SO4","v":0.88},{"t":"2012-07-13T00:06","s":"SO4","v":0.87},

      {"t":"2012-07-09T00:00","s":"NH4","v":0.33},{"t":"2012-07-09T00:24","s":"NH4","v":0.29},{"t":"2012-07-09T01:06","s":"NH4","v":0.27},{"t":"2012-07-09T01:48","s":"NH4","v":0.25},{"t":"2012-07-09T02:36","s":"NH4","v":0.25},{"t":"2012-07-09T03:18","s":"NH4","v":0.26},{"t":"2012-07-09T04:00","s":"NH4","v":0.25},{"t":"2012-07-09T04:36","s":"NH4","v":0.28},{"t":"2012-07-09T05:12","s":"NH4","v":0.23},{"t":"2012-07-09T05:54","s":"NH4","v":0.22},{"t":"2012-07-09T06:54","s":"NH4","v":0.22},{"t":"2012-07-09T07:54","s":"NH4","v":0.21},{"t":"2012-07-09T08:54","s":"NH4","v":0.22},{"t":"2012-07-09T09:48","s":"NH4","v":0.22},{"t":"2012-07-09T10:48","s":"NH4","v":0.23},{"t":"2012-07-09T11:48","s":"NH4","v":0.27},{"t":"2012-07-09T12:42","s":"NH4","v":0.27},{"t":"2012-07-09T13:42","s":"NH4","v":0.28},{"t":"2012-07-09T14:42","s":"NH4","v":0.27},{"t":"2012-07-09T15:42","s":"NH4","v":0.29},{"t":"2012-07-09T16:36","s":"NH4","v":0.29},{"t":"2012-07-09T17:36","s":"NH4","v":0.31},{"t":"2012-07-09T18:18","s":"NH4","v":0.36},{"t":"2012-07-09T18:48","s":"NH4","v":0.34},{"t":"2012-07-09T19:18","s":"NH4","v":0.42},{"t":"2012-07-09T20:00","s":"NH4","v":0.44},{"t":"2012-07-09T21:00","s":"NH4","v":0.45},{"t":"2012-07-09T21:54","s":"NH4","v":0.47},{"t":"2012-07-09T22:54","s":"NH4","v":0.49},{"t":"2012-07-09T23:54","s":"NH4","v":0.51},{"t":"2012-07-10T00:36","s":"NH4","v":0.52},{"t":"2012-07-10T01:06","s":"NH4","v":0.53},{"t":"2012-07-10T01:24","s":"NH4","v":0.60},{"t":"2012-07-10T01:36","s":"NH4","v":0.53},{"t":"2012-07-10T02:18","s":"NH4","v":0.53},{"t":"2012-07-10T03:18","s":"NH4","v":0.51},{"t":"2012-07-10T04:18","s":"NH4","v":0.49},{"t":"2012-07-10T05:00","s":"NH4","v":0.45},{"t":"2012-07-10T05:30","s":"NH4","v":0.42},{"t":"2012-07-10T05:42","s":"NH4","v":0.36},{"t":"2012-07-10T06:12","s":"NH4","v":0.31},{"t":"2012-07-10T06:42","s":"NH4","v":0.25},{"t":"2012-07-10T07:12","s":"NH4","v":0.27},{"t":"2012-07-10T07:54","s":"NH4","v":0.27},{"t":"2012-07-10T08:36","s":"NH4","v":0.25},{"t":"2012-07-10T09:24","s":"NH4","v":0.23},{"t":"2012-07-10T10:06","s":"NH4","v":0.22},{"t":"2012-07-10T10:48","s":"NH4","v":0.16},{"t":"2012-07-10T11:36","s":"NH4","v":0.18},{"t":"2012-07-10T12:18","s":"NH4","v":0.22},{"t":"2012-07-10T12:54","s":"NH4","v":0.29},{"t":"2012-07-10T13:24","s":"NH4","v":0.47},{"t":"2012-07-10T13:36","s":"NH4","v":0.56},{"t":"2012-07-10T14:00","s":"NH4","v":0.44},{"t":"2012-07-10T14:24","s":"NH4","v":0.31},{"t":"2012-07-10T15:12","s":"NH4","v":0.25},{"t":"2012-07-10T15:54","s":"NH4","v":0.22},{"t":"2012-07-10T16:36","s":"NH4","v":0.20},{"t":"2012-07-10T17:24","s":"NH4","v":0.20},{"t":"2012-07-10T18:06","s":"NH4","v":0.22},{"t":"2012-07-10T18:48","s":"NH4","v":0.23},{"t":"2012-07-10T19:36","s":"NH4","v":0.25},{"t":"2012-07-10T20:18","s":"NH4","v":0.25},{"t":"2012-07-10T20:48","s":"NH4","v":0.27},{"t":"2012-07-10T21:30","s":"NH4","v":0.27},{"t":"2012-07-10T22:12","s":"NH4","v":0.31},{"t":"2012-07-10T22:54","s":"NH4","v":0.34},{"t":"2012-07-10T23:24","s":"NH4","v":0.34},{"t":"2012-07-10T23:54","s":"NH4","v":0.33},{"t":"2012-07-11T00:36","s":"NH4","v":0.29},{"t":"2012-07-11T01:06","s":"NH4","v":0.23},{"t":"2012-07-11T02:06","s":"NH4","v":0.20},{"t":"2012-07-11T03:00","s":"NH4","v":0.17},{"t":"2012-07-11T04:00","s":"NH4","v":0.16},{"t":"2012-07-11T05:00","s":"NH4","v":0.17},{"t":"2012-07-11T05:54","s":"NH4","v":0.16},{"t":"2012-07-11T06:54","s":"NH4","v":0.17},{"t":"2012-07-11T07:54","s":"NH4","v":0.16},{"t":"2012-07-11T08:48","s":"NH4","v":0.16},{"t":"2012-07-11T09:48","s":"NH4","v":0.17},{"t":"2012-07-11T10:48","s":"NH4","v":0.18},{"t":"2012-07-11T11:48","s":"NH4","v":0.17},{"t":"2012-07-11T12:48","s":"NH4","v":0.22},{"t":"2012-07-11T13:42","s":"NH4","v":0.23},{"t":"2012-07-11T14:42","s":"NH4","v":0.23},{"t":"2012-07-11T15:36","s":"NH4","v":0.25},{"t":"2012-07-11T16:36","s":"NH4","v":0.29},{"t":"2012-07-11T17:36","s":"NH4","v":0.31},{"t":"2012-07-11T18:18","s":"NH4","v":0.33},{"t":"2012-07-11T18:36","s":"NH4","v":0.50},{"t":"2012-07-11T18:48","s":"NH4","v":0.66},{"t":"2012-07-11T19:18","s":"NH4","v":0.55},{"t":"2012-07-11T19:48","s":"NH4","v":0.45},{"t":"2012-07-11T20:18","s":"NH4","v":0.42},{"t":"2012-07-11T21:00","s":"NH4","v":0.44},{"t":"2012-07-11T21:42","s":"NH4","v":0.42},{"t":"2012-07-11T22:24","s":"NH4","v":0.44},{"t":"2012-07-11T23:12","s":"NH4","v":0.45},{"t":"2012-07-11T23:54","s":"NH4","v":0.42},{"t":"2012-07-12T00:36","s":"NH4","v":0.44},{"t":"2012-07-12T00:54","s":"NH4","v":0.47},{"t":"2012-07-12T01:12","s":"NH4","v":0.51},{"t":"2012-07-12T01:36","s":"NH4","v":0.42},{"t":"2012-07-12T02:24","s":"NH4","v":0.40},{"t":"2012-07-12T03:06","s":"NH4","v":0.42},{"t":"2012-07-12T03:48","s":"NH4","v":0.45},{"t":"2012-07-12T04:30","s":"NH4","v":0.47},{"t":"2012-07-12T05:12","s":"NH4","v":0.45},{"t":"2012-07-12T06:00","s":"NH4","v":0.45},{"t":"2012-07-12T06:42","s":"NH4","v":0.42},{"t":"2012-07-12T07:24","s":"NH4","v":0.36},{"t":"2012-07-12T08:12","s":"NH4","v":0.36},{"t":"2012-07-12T08:54","s":"NH4","v":0.38},{"t":"2012-07-12T09:36","s":"NH4","v":0.40},{"t":"2012-07-12T10:18","s":"NH4","v":0.42},{"t":"2012-07-12T11:06","s":"NH4","v":0.40},{"t":"2012-07-12T11:48","s":"NH4","v":0.36},{"t":"2012-07-12T12:18","s":"NH4","v":0.31},{"t":"2012-07-12T12:36","s":"NH4","v":0.23},{"t":"2012-07-12T13:00","s":"NH4","v":0.20},{"t":"2012-07-12T13:18","s":"NH4","v":0.27},{"t":"2012-07-12T13:42","s":"NH4","v":0.36},{"t":"2012-07-12T14:00","s":"NH4","v":0.31},{"t":"2012-07-12T14:12","s":"NH4","v":0.36},{"t":"2012-07-12T14:30","s":"NH4","v":0.60},{"t":"2012-07-12T14:48","s":"NH4","v":0.84},{"t":"2012-07-12T15:12","s":"NH4","v":0.77},{"t":"2012-07-12T15:36","s":"NH4","v":0.66},{"t":"2012-07-12T15:54","s":"NH4","v":0.64},{"t":"2012-07-12T16:24","s":"NH4","v":0.69},{"t":"2012-07-12T16:54","s":"NH4","v":0.66},{"t":"2012-07-12T17:24","s":"NH4","v":0.62},{"t":"2012-07-12T17:54","s":"NH4","v":0.58},{"t":"2012-07-12T18:18","s":"NH4","v":0.51},{"t":"2012-07-12T18:48","s":"NH4","v":0.42},{"t":"2012-07-12T19:30","s":"NH4","v":0.38},{"t":"2012-07-12T20:18","s":"NH4","v":0.36},{"t":"2012-07-12T21:00","s":"NH4","v":0.33},{"t":"2012-07-12T21:42","s":"NH4","v":0.34},{"t":"2012-07-12T22:24","s":"NH4","v":0.44},{"t":"2012-07-12T22:54","s":"NH4","v":0.42},{"t":"2012-07-12T23:24","s":"NH4","v":0.40},{"t":"2012-07-13T00:06","s":"NH4","v":0.38},

      {"t":"2012-07-09T00:00","s":"Chl","v":0.01},{"t":"2012-07-09T00:12","s":"Chl","v":0.02},{"t":"2012-07-09T00:24","s":"Chl","v":0.08},{"t":"2012-07-09T00:42","s":"Chl","v":0.02},{"t":"2012-07-09T01:30","s":"Chl","v":0.01},{"t":"2012-07-09T04:24","s":"Chl","v":0.01},{"t":"2012-07-09T04:36","s":"Chl","v":0.03},{"t":"2012-07-09T04:48","s":"Chl","v":0.01},{"t":"2012-07-09T18:00","s":"Chl","v":0.01},{"t":"2012-07-09T18:12","s":"Chl","v":0.03},{"t":"2012-07-09T18:24","s":"Chl","v":0.01},{"t":"2012-07-09T22:36","s":"Chl","v":0.01},{"t":"2012-07-09T22:48","s":"Chl","v":0.05},{"t":"2012-07-09T23:00","s":"Chl","v":0.01},{"t":"2012-07-10T00:54","s":"Chl","v":0.01},{"t":"2012-07-10T01:06","s":"Chl","v":0.20},{"t":"2012-07-10T01:24","s":"Chl","v":0.19},{"t":"2012-07-10T01:36","s":"Chl","v":0.05},{"t":"2012-07-10T02:00","s":"Chl","v":0.02},{"t":"2012-07-10T03:00","s":"Chl","v":0.01},{"t":"2012-07-10T13:12","s":"Chl","v":0.01},{"t":"2012-07-10T13:30","s":"Chl","v":0.06},{"t":"2012-07-10T13:48","s":"Chl","v":0.02},{"t":"2012-07-10T14:18","s":"Chl","v":0.04},{"t":"2012-07-10T14:36","s":"Chl","v":0.01},{"t":"2012-07-10T20:00","s":"Chl","v":0.01},{"t":"2012-07-10T20:12","s":"Chl","v":0.02},{"t":"2012-07-10T20:30","s":"Chl","v":0.01},{"t":"2012-07-11T18:00","s":"Chl","v":0.01},{"t":"2012-07-11T18:12","s":"Chl","v":0.02},{"t":"2012-07-11T18:24","s":"Chl","v":0.30},{"t":"2012-07-11T18:36","s":"Chl","v":0.76},{"t":"2012-07-11T18:54","s":"Chl","v":0.60},{"t":"2012-07-11T19:06","s":"Chl","v":0.25},{"t":"2012-07-11T19:24","s":"Chl","v":0.06},{"t":"2012-07-11T19:48","s":"Chl","v":0.02},{"t":"2012-07-11T20:42","s":"Chl","v":0.02},{"t":"2012-07-11T20:54","s":"Chl","v":0.06},{"t":"2012-07-11T21:12","s":"Chl","v":0.02},{"t":"2012-07-11T22:30","s":"Chl","v":0.02},{"t":"2012-07-11T23:00","s":"Chl","v":0.01},{"t":"2012-07-12T05:48","s":"Chl","v":0.01},{"t":"2012-07-12T06:00","s":"Chl","v":0.02},{"t":"2012-07-12T06:18","s":"Chl","v":0.01},{"t":"2012-07-12T22:00","s":"Chl","v":0.01},{"t":"2012-07-12T22:12","s":"Chl","v":0.02},{"t":"2012-07-12T22:30","s":"Chl","v":0.01},{"t":"2012-07-13T00:06","s":"Chl","v":0.01}
    ],
    "temp": [
      {"t":"2012-07-09T00:00","c":23.6},{"t":"2012-07-09T00:36","c":23.05},{"t":"2012-07-09T01:24","c":22.7},{"t":"2012-07-09T02:06","c":22.5},{"t":"2012-07-09T02:48","c":22.9},{"t":"2012-07-09T03:30","c":22.5},{"t":"2012-07-09T03:54","c":22.4},{"t":"2012-07-09T04:18","c":23.4},{"t":"2012-07-09T04:42","c":25.1},{"t":"2012-07-09T05:12","c":28.6},{"t":"2012-07-09T05:42","c":30.3},{"t":"2012-07-09T06:24","c":31.3},{"t":"2012-07-09T07:12","c":32.9},{"t":"2012-07-09T07:54","c":33.9},{"t":"2012-07-09T08:36","c":34.6},{"t":"2012-07-09T09:24","c":35.5},{"t":"2012-07-09T10:18","c":35.8},{"t":"2012-07-09T11:06","c":36.4},{"t":"2012-07-09T12:00","c":36.7},{"t":"2012-07-09T12:42","c":37.0},{"t":"2012-07-09T13:42","c":37.2},{"t":"2012-07-09T14:42","c":37.6},{"t":"2012-07-09T15:24","c":37.7},{"t":"2012-07-09T16:06","c":37.4},{"t":"2012-07-09T16:54","c":37.0},{"t":"2012-07-09T17:24","c":36.2},{"t":"2012-07-09T17:48","c":34.5},{"t":"2012-07-09T18:18","c":32.7},{"t":"2012-07-09T18:48","c":31.2},{"t":"2012-07-09T19:18","c":30.0},{"t":"2012-07-09T20:00","c":28.9},{"t":"2012-07-09T20:48","c":27.9},{"t":"2012-07-09T21:30","c":27.2},{"t":"2012-07-09T22:12","c":26.7},{"t":"2012-07-09T23:00","c":26.5},{"t":"2012-07-09T23:24","c":26.0},{"t":"2012-07-10T00:06","c":25.1},{"t":"2012-07-10T00:54","c":24.2},{"t":"2012-07-10T01:36","c":23.6},{"t":"2012-07-10T02:06","c":23.05},{"t":"2012-07-10T02:24","c":22.2},{"t":"2012-07-10T02:48","c":21.3},{"t":"2012-07-10T03:12","c":22.0},{"t":"2012-07-10T03:48","c":23.4},{"t":"2012-07-10T04:18","c":24.4},{"t":"2012-07-10T04:42","c":25.5},{"t":"2012-07-10T05:12","c":27.2},{"t":"2012-07-10T05:42","c":29.3},{"t":"2012-07-10T06:12","c":30.7},{"t":"2012-07-10T06:42","c":31.7},{"t":"2012-07-10T07:12","c":32.0},{"t":"2012-07-10T07:42","c":34.1},{"t":"2012-07-10T08:06","c":35.7},{"t":"2012-07-10T08:36","c":35.1},{"t":"2012-07-10T09:06","c":35.5},{"t":"2012-07-10T09:36","c":35.7},{"t":"2012-07-10T10:06","c":34.8},{"t":"2012-07-10T10:36","c":35.3},{"t":"2012-07-10T11:00","c":35.8},{"t":"2012-07-10T11:30","c":36.0},{"t":"2012-07-10T12:00","c":36.4},{"t":"2012-07-10T12:30","c":36.2},{"t":"2012-07-10T13:00","c":36.9},{"t":"2012-07-10T13:30","c":36.5},{"t":"2012-07-10T13:54","c":36.2},{"t":"2012-07-10T14:24","c":35.3},{"t":"2012-07-10T14:54","c":34.6},{"t":"2012-07-10T15:24","c":35.1},{"t":"2012-07-10T15:54","c":35.5},{"t":"2012-07-10T16:24","c":35.5},{"t":"2012-07-10T16:54","c":35.1},{"t":"2012-07-10T17:24","c":34.1},{"t":"2012-07-10T17:48","c":32.4},{"t":"2012-07-10T18:18","c":30.3},{"t":"2012-07-10T18:48","c":30.0},{"t":"2012-07-10T19:18","c":29.8},{"t":"2012-07-10T19:48","c":29.1},{"t":"2012-07-10T20:18","c":28.6},{"t":"2012-07-10T20:48","c":27.9},{"t":"2012-07-10T21:12","c":26.9},{"t":"2012-07-10T21:42","c":26.2},{"t":"2012-07-10T22:12","c":25.3},{"t":"2012-07-10T22:42","c":24.8},{"t":"2012-07-10T23:12","c":24.4},{"t":"2012-07-10T23:36","c":24.3},{"t":"2012-07-11T00:06","c":24.2},{"t":"2012-07-11T00:36","c":23.9},{"t":"2012-07-11T01:06","c":23.9},{"t":"2012-07-11T02:06","c":23.4},{"t":"2012-07-11T02:48","c":23.05},{"t":"2012-07-11T03:18","c":22.7},{"t":"2012-07-11T03:48","c":23.2},{"t":"2012-07-11T04:30","c":24.4},{"t":"2012-07-11T05:00","c":25.1},{"t":"2012-07-11T05:48","c":25.5},{"t":"2012-07-11T06:30","c":26.5},{"t":"2012-07-11T07:00","c":27.9},{"t":"2012-07-11T07:24","c":28.9},{"t":"2012-07-11T07:54","c":30.7},{"t":"2012-07-11T08:24","c":31.7},{"t":"2012-07-11T08:54","c":33.4},{"t":"2012-07-11T09:24","c":34.1},{"t":"2012-07-11T09:54","c":34.5},{"t":"2012-07-11T10:18","c":35.0},{"t":"2012-07-11T10:48","c":35.3},{"t":"2012-07-11T11:30","c":35.7},{"t":"2012-07-11T12:12","c":35.8},{"t":"2012-07-11T12:42","c":35.1},{"t":"2012-07-11T13:12","c":35.8},{"t":"2012-07-11T13:42","c":36.0},{"t":"2012-07-11T14:12","c":35.8},{"t":"2012-07-11T14:42","c":35.1},{"t":"2012-07-11T15:12","c":33.4},{"t":"2012-07-11T15:42","c":32.4},{"t":"2012-07-11T16:06","c":31.0},{"t":"2012-07-11T16:36","c":29.3},{"t":"2012-07-11T17:06","c":27.9},{"t":"2012-07-11T17:36","c":26.5},{"t":"2012-07-11T18:06","c":25.5},{"t":"2012-07-11T18:48","c":24.8},{"t":"2012-07-11T19:30","c":24.4},{"t":"2012-07-11T20:30","c":24.3},{"t":"2012-07-11T21:30","c":24.3},{"t":"2012-07-11T22:24","c":24.1},{"t":"2012-07-11T23:12","c":23.9},{"t":"2012-07-11T23:54","c":23.4},{"t":"2012-07-12T00:36","c":22.8},{"t":"2012-07-12T01:06","c":22.0},{"t":"2012-07-12T01:36","c":21.5},{"t":"2012-07-12T02:24","c":20.8},{"t":"2012-07-12T03:06","c":20.5},{"t":"2012-07-12T03:36","c":21.0},{"t":"2012-07-12T04:00","c":22.4},{"t":"2012-07-12T04:30","c":24.4},{"t":"2012-07-12T05:00","c":26.5},{"t":"2012-07-12T05:30","c":27.9},{"t":"2012-07-12T06:00","c":28.6},{"t":"2012-07-12T06:30","c":29.6},{"t":"2012-07-12T07:00","c":30.5},{"t":"2012-07-12T07:24","c":31.0},{"t":"2012-07-12T07:54","c":31.5},{"t":"2012-07-12T08:24","c":32.4},{"t":"2012-07-12T08:54","c":33.1},{"t":"2012-07-12T09:24","c":34.8},{"t":"2012-07-12T09:54","c":35.0},{"t":"2012-07-12T10:18","c":35.3},{"t":"2012-07-12T10:48","c":35.5},{"t":"2012-07-12T11:24","c":35.9},{"t":"2012-07-12T12:00","c":35.7},{"t":"2012-07-12T12:36","c":35.5},{"t":"2012-07-12T13:12","c":35.3},{"t":"2012-07-12T13:54","c":35.0},{"t":"2012-07-12T14:36","c":34.6},{"t":"2012-07-12T15:24","c":33.8},{"t":"2012-07-12T16:06","c":33.1},{"t":"2012-07-12T16:48","c":32.0},{"t":"2012-07-12T17:30","c":30.7},{"t":"2012-07-12T18:18","c":29.3},{"t":"2012-07-12T19:00","c":27.9},{"t":"2012-07-12T19:30","c":26.9},{"t":"2012-07-12T20:00","c":26.5},{"t":"2012-07-12T20:30","c":25.1},{"t":"2012-07-12T20:54","c":24.6},{"t":"2012-07-12T21:30","c":24.3},{"t":"2012-07-12T21:54","c":23.05},{"t":"2012-07-12T22:24","c":22.4},{"t":"2012-07-12T22:54","c":22.0},{"t":"2012-07-12T23:24","c":22.2},{"t":"2012-07-13T00:06","c":22.5}
    ],
    "pbl": [
      {"t":"2012-07-09T05:58","p":726},{"t":"2012-07-09T06:13","p":659},{"t":"2012-07-09T06:21","p":807},{"t":"2012-07-09T06:33","p":753},{"t":"2012-07-09T06:41","p":834},{"t":"2012-07-09T06:27","p":848},{"t":"2012-07-09T06:56","p":780},{"t":"2012-07-09T07:02","p":821},{"t":"2012-07-09T07:11","p":861},{"t":"2012-07-09T07:25","p":915},{"t":"2012-07-09T07:40","p":969},{"t":"2012-07-09T07:38","p":956},{"t":"2012-07-09T07:54","p":1023},{"t":"2012-07-09T07:54","p":875},{"t":"2012-07-09T08:09","p":983},{"t":"2012-07-09T08:17","p":996},{"t":"2012-07-09T08:23","p":942},{"t":"2012-07-09T08:23","p":848},{"t":"2012-07-09T08:38","p":915},{"t":"2012-07-09T08:47","p":780},{"t":"2012-07-09T08:52","p":969},{"t":"2012-07-09T09:07","p":915},{"t":"2012-07-09T09:22","p":1347},{"t":"2012-07-09T09:27","p":1172},{"t":"2012-07-09T09:29","p":1104},{"t":"2012-07-09T09:45","p":1536},{"t":"2012-07-09T09:56","p":1496},{"t":"2012-07-09T10:05","p":1469},{"t":"2012-07-09T10:20","p":1509},{"t":"2012-07-09T10:07","p":1631},{"t":"2012-07-09T10:20","p":1752},{"t":"2012-07-09T10:34","p":1806},{"t":"2012-07-09T10:43","p":1739},{"t":"2012-07-09T10:49","p":1671},{"t":"2012-07-09T11:03","p":1847},{"t":"2012-07-09T11:18","p":1833},{"t":"2012-07-09T11:05","p":1617},{"t":"2012-07-09T11:23","p":1725},{"t":"2012-07-09T11:18","p":2130},{"t":"2012-07-09T11:32","p":2103},{"t":"2012-07-09T11:26","p":2076},{"t":"2012-07-09T11:47","p":1671},{"t":"2012-07-09T12:01","p":1563},{"t":"2012-07-09T12:16","p":1509},{"t":"2012-07-09T11:53","p":1455},{"t":"2012-07-09T12:31","p":1590},{"t":"2012-07-09T12:45","p":1698},{"t":"2012-07-09T12:31","p":1874},{"t":"2012-07-09T12:45","p":2049},{"t":"2012-07-09T12:10","p":1752},{"t":"2012-07-09T12:59","p":2265},{"t":"2012-07-09T13:05","p":2225},{"t":"2012-07-09T12:51","p":2198},{"t":"2012-07-09T13:14","p":1563},{"t":"2012-07-09T13:29","p":1482},{"t":"2012-07-09T13:43","p":1725},{"t":"2012-07-09T13:58","p":1671},{"t":"2012-07-09T14:07","p":1455},{"t":"2012-07-09T13:14","p":1442},{"t":"2012-07-09T14:13","p":1806},{"t":"2012-07-09T14:18","p":1833},{"t":"2012-07-09T14:27","p":1995},{"t":"2012-07-09T14:41","p":2157},{"t":"2012-07-09T14:56","p":2130},{"t":"2012-07-09T15:11","p":2252},{"t":"2012-07-09T15:25","p":2184},{"t":"2012-07-09T14:58","p":2090},{"t":"2012-07-09T14:35","p":2103},{"t":"2012-07-09T15:40","p":2049},{"t":"2012-07-09T15:54","p":2022},{"t":"2012-07-09T16:09","p":2211},{"t":"2012-07-09T16:23","p":2130},{"t":"2012-07-09T16:38","p":2076},{"t":"2012-07-09T16:52","p":2049},{"t":"2012-07-09T17:07","p":2022},{"t":"2012-07-09T15:56","p":2076},{"t":"2012-07-09T16:25","p":1968},{"t":"2012-07-09T16:44","p":1914},{"t":"2012-07-09T17:01","p":1887},{"t":"2012-07-09T17:22","p":1806},{"t":"2012-07-09T17:09","p":1968},{"t":"2012-07-09T18:05","p":2441},{"t":"2012-07-09T18:58","p":2306},{"t":"2012-07-09T18:20","p":2198},{"t":"2012-07-09T18:34","p":2130},{"t":"2012-07-09T18:49","p":2198},{"t":"2012-07-09T18:40","p":2063},{"t":"2012-07-09T18:28","p":1941},{"t":"2012-07-09T18:22","p":1874},{"t":"2012-07-09T18:05","p":1752},{"t":"2012-07-09T17:50","p":1806},{"t":"2012-07-09T18:07","p":1644},{"t":"2012-07-09T17:36","p":1833},{"t":"2012-07-09T19:03","p":1212},{"t":"2012-07-09T19:18","p":1172},{"t":"2012-07-09T19:32","p":1131},{"t":"2012-07-09T20:01","p":1185},{"t":"2012-07-09T20:16","p":1158},{"t":"2012-07-09T20:31","p":1212},{"t":"2012-07-09T20:45","p":1185},{"t":"2012-07-09T20:59","p":1266},{"t":"2012-07-09T21:14","p":1239},{"t":"2012-07-09T19:47","p":1077},{"t":"2012-07-09T20:03","p":1023},{"t":"2012-07-09T19:38","p":983},{"t":"2012-07-09T20:47","p":1023},{"t":"2012-07-09T21:05","p":996},{"t":"2012-07-09T19:05","p":1266},{"t":"2012-07-09T21:29","p":942},{"t":"2012-07-09T21:43","p":888},{"t":"2012-07-09T21:58","p":848},{"t":"2012-07-09T22:13","p":807},{"t":"2012-07-09T22:27","p":780},{"t":"2012-07-09T21:52","p":861},{"t":"2012-07-09T22:41","p":672},{"t":"2012-07-09T22:56","p":632},{"t":"2012-07-09T23:11","p":659},{"t":"2012-07-09T23:25","p":699},{"t":"2012-07-09T23:40","p":672},{"t":"2012-07-09T23:54","p":713},{"t":"2012-07-10T00:09","p":699},{"t":"2012-07-10T00:23","p":726},{"t":"2012-07-10T00:38","p":699},{"t":"2012-07-10T00:52","p":713},
      {"t":"2012-07-10T01:07","p":699},{"t":"2012-07-10T01:22","p":672},{"t":"2012-07-10T01:36","p":740},{"t":"2012-07-10T01:50","p":780},{"t":"2012-07-10T02:05","p":699},{"t":"2012-07-10T02:20","p":753},{"t":"2012-07-10T02:34","p":672},{"t":"2012-07-10T03:04","p":699},{"t":"2012-07-10T03:18","p":740},{"t":"2012-07-10T03:32","p":699},{"t":"2012-07-10T03:47","p":753},{"t":"2012-07-10T04:16","p":767},{"t":"2012-07-10T05:14","p":672},{"t":"2012-07-10T05:38","p":618},{"t":"2012-07-10T07:25","p":645},{"t":"2012-07-10T07:40","p":672},{"t":"2012-07-10T07:54","p":726},{"t":"2012-07-10T08:09","p":753},{"t":"2012-07-10T08:23","p":848},{"t":"2012-07-10T08:44","p":915},{"t":"2012-07-10T08:52","p":956},{"t":"2012-07-10T09:07","p":888},{"t":"2012-07-10T09:09","p":780},{"t":"2012-07-10T09:50","p":1010},{"t":"2012-07-10T09:59","p":1307},{"t":"2012-07-10T10:20","p":1280},{"t":"2012-07-10T10:29","p":1239},{"t":"2012-07-10T10:40","p":1185},{"t":"2012-07-10T10:58","p":1374},{"t":"2012-07-10T11:04","p":1604},{"t":"2012-07-10T11:18","p":1739},{"t":"2012-07-10T11:32","p":1806},{"t":"2012-07-10T11:26","p":1887},{"t":"2012-07-10T11:47","p":1941},{"t":"2012-07-10T11:49","p":2076},{"t":"2012-07-10T11:56","p":2157},{"t":"2012-07-10T12:07","p":2238},{"t":"2012-07-10T12:25","p":2225},{"t":"2012-07-10T12:37","p":2252},{"t":"2012-07-10T12:45","p":2211},{"t":"2012-07-10T13:00","p":2076},{"t":"2012-07-10T13:14","p":2049},{"t":"2012-07-10T13:29","p":2009},{"t":"2012-07-10T13:43","p":1995},{"t":"2012-07-10T13:58","p":2022},{"t":"2012-07-10T14:13","p":2144},{"t":"2012-07-10T14:27","p":2157},{"t":"2012-07-10T14:50","p":1941},{"t":"2012-07-10T15:11","p":1914},{"t":"2012-07-10T15:25","p":1860},{"t":"2012-07-10T15:40","p":1968},{"t":"2012-07-10T15:54","p":1887},{"t":"2012-07-10T16:09","p":1752},{"t":"2012-07-10T16:23","p":1725},{"t":"2012-07-10T16:38","p":1752},{"t":"2012-07-10T16:11","p":1631},{"t":"2012-07-10T16:52","p":1509},{"t":"2012-07-10T17:07","p":1455},{"t":"2012-07-10T17:09","p":1307},{"t":"2012-07-10T17:22","p":1239},{"t":"2012-07-10T17:28","p":888},{"t":"2012-07-10T17:30","p":740},{"t":"2012-07-10T17:50","p":1779},{"t":"2012-07-10T18:05","p":1671},{"t":"2012-07-10T18:20","p":1644},{"t":"2012-07-10T18:34","p":1590},{"t":"2012-07-10T18:49","p":1617},{"t":"2012-07-10T19:04","p":1698},{"t":"2012-07-10T19:18","p":1658},{"t":"2012-07-10T19:32","p":1698},{"t":"2012-07-10T19:47","p":1752},{"t":"2012-07-10T20:02","p":1833},{"t":"2012-07-10T20:16","p":1860},{"t":"2012-07-10T20:31","p":1914},{"t":"2012-07-10T20:45","p":1968},{"t":"2012-07-10T21:00","p":1928},{"t":"2012-07-10T21:14","p":1995},{"t":"2012-07-10T21:29","p":2022},{"t":"2012-07-10T21:38","p":2049},{"t":"2012-07-10T19:34","p":1455},{"t":"2012-07-10T19:49","p":1590},{"t":"2012-07-10T21:58","p":1577},{"t":"2012-07-10T22:07","p":1334},{"t":"2012-07-10T22:41","p":1226},{"t":"2012-07-10T22:27","p":1131},{"t":"2012-07-10T22:43","p":1104},{"t":"2012-07-10T23:11","p":915},{"t":"2012-07-10T23:13","p":861},{"t":"2012-07-10T23:25","p":740},{"t":"2012-07-10T23:40","p":726},{"t":"2012-07-10T23:54","p":713},{"t":"2012-07-11T00:09","p":726},{"t":"2012-07-11T00:23","p":740},{"t":"2012-07-11T00:38","p":726},{"t":"2012-07-11T00:52","p":699},{"t":"2012-07-11T01:07","p":713},{"t":"2012-07-11T01:22","p":713},{"t":"2012-07-11T00:25","p":834},
      {"t":"2012-07-11T00:53","p":740},{"t":"2012-07-11T01:09","p":699},{"t":"2012-07-11T01:24","p":713},{"t":"2012-07-11T01:36","p":672},{"t":"2012-07-11T01:07","p":645},{"t":"2012-07-11T01:51","p":605},{"t":"2012-07-11T03:32","p":632},{"t":"2012-07-11T03:47","p":659},{"t":"2012-07-11T04:02","p":618},{"t":"2012-07-11T04:16","p":645},{"t":"2012-07-11T04:31","p":672},{"t":"2012-07-11T04:46","p":632},{"t":"2012-07-11T05:00","p":699},{"t":"2012-07-11T04:04","p":591},{"t":"2012-07-11T06:13","p":767},{"t":"2012-07-11T06:27","p":713},{"t":"2012-07-11T06:42","p":753},{"t":"2012-07-11T07:40","p":618},{"t":"2012-07-11T07:55","p":659},{"t":"2012-07-11T07:57","p":780},{"t":"2012-07-11T08:09","p":794},{"t":"2012-07-11T08:23","p":848},{"t":"2012-07-11T08:38","p":902},{"t":"2012-07-11T08:53","p":996},{"t":"2012-07-11T09:07","p":1023},{"t":"2012-07-11T09:22","p":1037},{"t":"2012-07-11T09:36","p":1077},{"t":"2012-07-11T09:51","p":1104},{"t":"2012-07-11T10:05","p":1131},{"t":"2012-07-11T10:20","p":1145},{"t":"2012-07-11T10:34","p":1185},{"t":"2012-07-11T10:49","p":1145},{"t":"2012-07-11T11:04","p":1199},{"t":"2012-07-11T11:18","p":1064},{"t":"2012-07-11T10:36","p":1266},{"t":"2012-07-11T10:51","p":1239},{"t":"2012-07-11T11:32","p":1550},{"t":"2012-07-11T11:47","p":1563},{"t":"2012-07-11T12:02","p":1536},{"t":"2012-07-11T11:49","p":1482},{"t":"2012-07-11T11:34","p":1428},{"t":"2012-07-11T12:04","p":1347},{"t":"2012-07-11T12:16","p":1388},{"t":"2012-07-11T12:31","p":1320},{"t":"2012-07-11T12:46","p":1307},{"t":"2012-07-11T12:51","p":1226},{"t":"2012-07-11T13:00","p":1577},{"t":"2012-07-11T13:08","p":1509},{"t":"2012-07-11T13:14","p":1644},{"t":"2012-07-11T13:29","p":1442},{"t":"2012-07-11T13:16","p":1131},{"t":"2012-07-11T13:20","p":983},{"t":"2012-07-11T13:44","p":1847},{"t":"2012-07-11T13:58","p":1847},{"t":"2012-07-11T14:07","p":1968},{"t":"2012-07-11T14:13","p":1739},{"t":"2012-07-11T14:27","p":1752},{"t":"2012-07-11T14:42","p":1766},{"t":"2012-07-11T14:36","p":1671},{"t":"2012-07-11T14:44","p":1577},{"t":"2012-07-11T14:56","p":834},{"t":"2012-07-11T15:11","p":861},{"t":"2012-07-11T15:46","p":888},{"t":"2012-07-11T15:55","p":942},{"t":"2012-07-11T15:40","p":753},{"t":"2012-07-11T16:09","p":861},{"t":"2012-07-11T15:34","p":686},{"t":"2012-07-11T15:57","p":632},{"t":"2012-07-11T16:11","p":659},{"t":"2012-07-11T16:23","p":699},{"t":"2012-07-11T16:38","p":726},{"t":"2012-07-11T16:53","p":672},{"t":"2012-07-11T17:07","p":713},{"t":"2012-07-11T17:22","p":713},{"t":"2012-07-11T18:20","p":807},{"t":"2012-07-11T18:34","p":848},{"t":"2012-07-11T18:49","p":875},{"t":"2012-07-11T19:04","p":942},{"t":"2012-07-11T19:18","p":969},{"t":"2012-07-11T19:32","p":1010},{"t":"2012-07-11T19:34","p":915},{"t":"2012-07-11T19:47","p":1037},{"t":"2012-07-11T20:02","p":1064},{"t":"2012-07-11T20:04","p":969},{"t":"2012-07-11T20:16","p":1050},{"t":"2012-07-11T20:31","p":1023},{"t":"2012-07-11T20:46","p":996},{"t":"2012-07-11T21:00","p":1725},{"t":"2012-07-11T21:06","p":1671},{"t":"2012-07-11T21:23","p":1644},{"t":"2012-07-11T21:29","p":1590},{"t":"2012-07-11T21:44","p":1536},{"t":"2012-07-11T21:02","p":1280},{"t":"2012-07-11T22:13","p":632},{"t":"2012-07-11T22:56","p":645},{"t":"2012-07-11T23:25","p":699},
      {"t":"2012-07-12T00:09","p":645},{"t":"2012-07-12T00:23","p":726},{"t":"2012-07-12T00:38","p":726},{"t":"2012-07-12T00:40","p":618},{"t":"2012-07-12T00:53","p":713},{"t":"2012-07-12T01:07","p":686},{"t":"2012-07-12T01:22","p":672},{"t":"2012-07-12T01:36","p":699},{"t":"2012-07-12T01:51","p":672},{"t":"2012-07-12T02:05","p":753},{"t":"2012-07-12T04:16","p":1050},{"t":"2012-07-12T04:31","p":1023},{"t":"2012-07-12T04:46","p":996},{"t":"2012-07-12T05:00","p":1037},{"t":"2012-07-12T05:29","p":1050},{"t":"2012-07-12T04:18","p":848},{"t":"2012-07-12T04:25","p":605},{"t":"2012-07-12T17:36","p":1590},{"t":"2012-07-12T17:51","p":1563},{"t":"2012-07-12T18:05","p":1536},{"t":"2012-07-12T18:20","p":1563},{"t":"2012-07-12T18:34","p":1617},{"t":"2012-07-12T18:11","p":1644},{"t":"2012-07-12T18:29","p":1509},{"t":"2012-07-12T18:07","p":1469},{"t":"2012-07-12T18:49","p":1631},{"t":"2012-07-12T17:38","p":875},{"t":"2012-07-12T17:42","p":848}
    ]
  },
  "resolve": {"scale": {"y": "independent", "color": "independent"}},
  "layer": [
    {
      "data": {"name": "mass"},
      "mark": {"type": "line", "strokeWidth": 1.2},
      "encoding": {
        "x": {
          "field": "t", "type": "temporal",
          "scale": {"domain": [{"year": 2012, "month": 7, "date": 8, "hours": 23, "minutes": 19}, {"year": 2012, "month": 7, "date": 13, "hours": 0, "minutes": 46}]},
          "axis": {
            "title": null,
            "values": [
              {"year": 2012, "month": 7, "date": 9, "hours": 0}, {"year": 2012, "month": 7, "date": 9, "hours": 12},
              {"year": 2012, "month": 7, "date": 10, "hours": 0}, {"year": 2012, "month": 7, "date": 10, "hours": 12},
              {"year": 2012, "month": 7, "date": 11, "hours": 0}, {"year": 2012, "month": 7, "date": 11, "hours": 12},
              {"year": 2012, "month": 7, "date": 12, "hours": 0}, {"year": 2012, "month": 7, "date": 12, "hours": 12},
              {"year": 2012, "month": 7, "date": 13, "hours": 0}
            ],
            "labelExpr": "hours(datum.value) == 0 ? [timeFormat(datum.value, '%I:%M %p'), timeFormat(datum.value, '%-m/%-d/%Y')] : timeFormat(datum.value, '%I:%M %p')",
            "labelFontSize": 14, "labelLineHeight": 15, "labelBaseline": "top",
            "labelOverlap": false, "labelBound": false, "labelFlush": false,
            "labelColor": "black", "domainColor": "#555555", "tickColor": "#555555",
            "tickSize": 11, "labelPadding": 6
          }
        },
        "y": {
          "field": "v", "type": "quantitative",
          "scale": {"domain": [-0.011, 3.846], "nice": false, "zero": false},
          "axis": {
            "orient": "left", "title": "Mass concentration (µg/m³)", "values": [0, 1, 2, 3],
            "domainColor": "black", "tickColor": "black", "labelColor": "black", "titleColor": "black",
            "tickSize": 7, "labelPadding": 4, "titlePadding": 9, "labelFontSize": 14, "titleFontSize": 14
          }
        },
        "color": {
          "field": "s", "type": "nominal",
          "scale": {"domain": ["Org", "NO3", "SO4", "NH4", "Chl"], "range": ["#00c800", "#0000ff", "#ff0000", "#ffa500", "#ff14c8"]},
          "legend": {
            "orient": "none", "legendX": 531, "legendY": 19, "title": null,
            "symbolType": "M-1.9,0H1.9", "symbolSize": 196,
            "labelExpr": "replace(replace(datum.label, '3', '₃'), '4', '₄')"
          }
        }
      }
    },
    {
      "data": {"name": "pbl"},
      "mark": {"type": "point", "shape": "M-1,0H1M0,-1V1", "size": 70, "filled": false, "strokeWidth": 1.3, "opacity": 0.9},
      "encoding": {
        "x": {"field": "t", "type": "temporal", "scale": {"domain": [{"year": 2012, "month": 7, "date": 8, "hours": 23, "minutes": 19}, {"year": 2012, "month": 7, "date": 13, "hours": 0, "minutes": 46}]}},
        "y": {
          "field": "p", "type": "quantitative",
          "scale": {"domain": [-8, 2834], "nice": false, "zero": false},
          "axis": {
            "orient": "right", "title": "PBL height (m)", "values": [0, 500, 1000, 1500, 2000, 2500], "format": "d",
            "domainColor": "#88104a", "tickColor": "#88104a", "labelColor": "#88104a", "titleColor": "#88104a",
            "tickSize": 7, "labelPadding": 5, "titlePadding": 7, "labelFontSize": 14, "titleFontSize": 14
          }
        },
        "color": {
          "datum": "PBL height",
          "scale": {"range": ["#88104a"]},
          "legend": {"orient": "none", "legendX": 531, "legendY": 100, "title": null, "symbolType": "M-0.57,0H0.57M0,-0.57V0.57", "symbolSize": 196, "symbolFillColor": "transparent"}
        }
      }
    },
    {
      "data": {"name": "temp"},
      "mark": {"type": "line", "strokeWidth": 1.2},
      "encoding": {
        "x": {"field": "t", "type": "temporal", "scale": {"domain": [{"year": 2012, "month": 7, "date": 8, "hours": 23, "minutes": 19}, {"year": 2012, "month": 7, "date": 13, "hours": 0, "minutes": 46}]}},
        "y": {
          "field": "c", "type": "quantitative",
          "scale": {"domain": [14, 50.4], "nice": false, "zero": false},
          "axis": {
            "orient": "left", "offset": 59, "title": "Temperature (°C)", "values": [15, 20, 25, 30, 35, 40, 45, 50],
            "domainColor": "#aaaaaa", "tickColor": "#aaaaaa", "labelColor": "#aaaaaa", "titleColor": "#aaaaaa",
            "tickSize": 8, "labelPadding": 4, "titlePadding": 10, "labelFontSize": 14, "titleFontSize": 14
          }
        },
        "color": {
          "datum": "temperature",
          "scale": {"range": ["#bdbdbd"]},
          "legend": {"orient": "none", "legendX": 531, "legendY": 117, "title": null, "symbolType": "M-1.9,0H1.9", "symbolSize": 196}
        }
      }
    }
  ]
}
